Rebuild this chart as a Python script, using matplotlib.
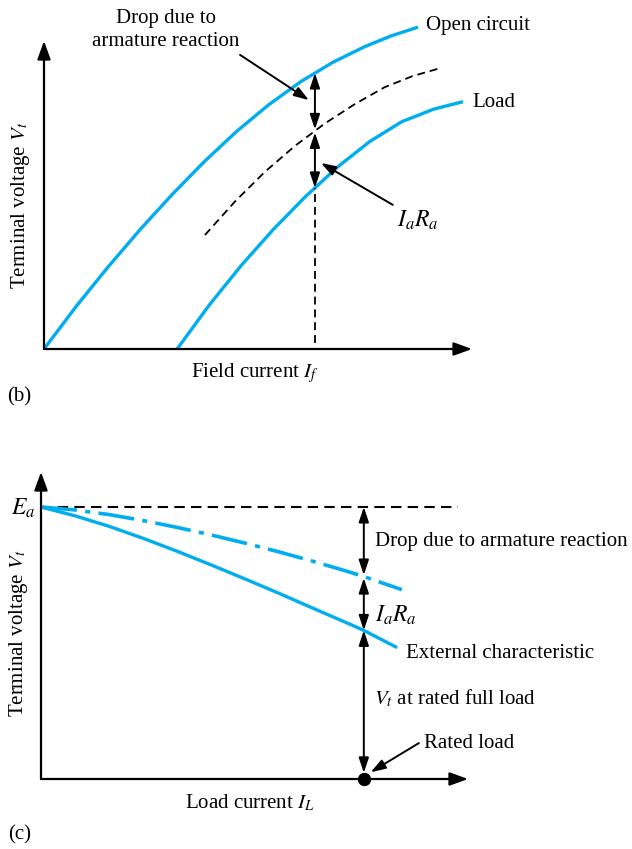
import matplotlib
matplotlib.use("Agg")
import matplotlib.pyplot as plt

plt.rcParams['font.family'] = ['Liberation Serif', 'DejaVu Serif']
plt.rcParams['mathtext.fontset'] = 'stix'
plt.rcParams['font.size'] = 15

BLUE = '#00aeef'

# --- (b) terminal voltage vs field current (arbitrary units) ---
oc_if = [0, 0.75, 1.5, 2.25, 3.0, 3.75, 4.5, 5.25, 6.0, 6.75, 7.5, 8.1, 8.74]
oc_vt = [0, 1.38, 2.67, 3.885, 5.025, 6.09, 7.065, 7.93, 8.68, 9.31, 9.82, 10.16, 10.45]
load_if = [3.11, 3.86, 4.61, 5.36, 6.11, 6.86, 7.61, 8.36, 9.11, 9.79]
load_vt = [0, 1.425, 2.715, 3.885, 4.95, 5.91, 6.735, 7.38, 7.79, 8.03]
ar_if = [3.76, 4.46, 5.16, 5.86, 6.56, 7.26, 7.96, 8.61, 9.21]
ar_vt = [3.70, 4.785, 5.75, 6.59, 7.32, 7.95, 8.50, 8.86, 9.10]
op_if = 6.33
op_open, op_ar, op_load = 8.96, 7.08, 5.23

# --- (c) terminal voltage vs load current (arbitrary units) ---
il = [0, 0.8, 1.6, 2.4, 3.2, 4.0, 4.8, 5.6, 6.4, 7.2, 7.56, 8.34]
ext_vt = [8.86, 8.572, 8.228, 7.836, 7.412, 6.964, 6.504, 6.032, 5.544, 5.064, 4.84, 4.28]
il_ar = [0, 0.8, 1.6, 2.4, 3.2, 4.0, 4.8, 5.6, 6.4, 7.2, 7.56, 8.45]
ar_only_vt = [8.86, 8.764, 8.612, 8.416, 8.192, 7.944, 7.676, 7.388, 7.08, 6.752, 6.594, 6.167]
ea = 8.86
rated_il = 7.56
rated_ar, rated_vt = 6.594, 4.84


def arrow(ax, p0, p1, style, lw=1.4, ms=20):
    ax.annotate('', xy=p1, xytext=p0, annotation_clip=False,
                arrowprops=dict(arrowstyle=style, lw=lw, color='k',
                                shrinkA=0, shrinkB=0, mutation_scale=ms))


AXIS_HEAD = '-|>,head_length=0.55,head_width=0.2'
DBL = '<|-|>,head_length=0.45,head_width=0.15'
ONE = '-|>,head_length=0.45,head_width=0.15'

fig = plt.figure(figsize=(6.32, 8.49), dpi=100)

# panel (b)
ax1 = fig.add_axes([44 / 632, 1 - 349 / 849, 428 / 632, 308 / 849])
ax1.set_xlim(0, 10)
ax1.set_ylim(0, 10)
ax1.axis('off')

arrow(ax1, (0, 0), (10, 0), AXIS_HEAD, lw=1.6)
arrow(ax1, (0, 0), (0, 10), AXIS_HEAD, lw=1.6)

ax1.plot(oc_if, oc_vt, color=BLUE, lw=2.4, solid_capstyle='butt',
         solid_joinstyle='round', clip_on=False)
ax1.plot(load_if, load_vt, color=BLUE, lw=2.4, solid_capstyle='butt',
         solid_joinstyle='round', clip_on=False)
ax1.plot(ar_if, ar_vt, color='k', lw=1.3, ls=(0, (4.4, 2.7)), clip_on=False)
ax1.plot([op_if, op_if], [0.19, op_load], color='k', lw=1.3, ls=(0, (4.4, 2.7)))

arrow(ax1, (op_if, op_ar + 0.05), (op_if, op_open), DBL)
arrow(ax1, (op_if, op_load), (op_if, op_ar - 0.05), DBL)
arrow(ax1, (4.58, 9.55), (6.19, 8.08), ONE)
arrow(ax1, (8.15, 4.68), (6.47, 6.04), ONE)

ax1.text(2.85, 10.36, 'Drop due to\narmature reaction', ha='center', va='center',
         linespacing=1.3)
ax1.text(8.92, 10.49, 'Open circuit', ha='left', va='center')
ax1.text(10.0, 7.99, 'Load', ha='left', va='center')
ax1.text(8.25, 4.19, '$I_aR_a$', ha='left', va='center', fontsize=17)
ax1.text(-0.55, 4.68, 'Terminal voltage $V_t$', rotation=90, ha='center', va='center')
ax1.text(4.93, -0.78, 'Field current $I_f$', ha='center', va='center')
ax1.text(-0.86, -1.56, '(b)', ha='left', va='center')

# panel (c)
ax2 = fig.add_axes([41 / 632, 1 - 779 / 849, 427 / 632, 307 / 849])
ax2.set_xlim(0, 10)
ax2.set_ylim(0, 10)
ax2.axis('off')

arrow(ax2, (0, 0), (10, 0), AXIS_HEAD, lw=1.6)
arrow(ax2, (0, 0), (0, 10), AXIS_HEAD, lw=1.6)

ax2.plot([0, 9.77], [ea, ea], color='k', lw=1.5, ls=(0, (5, 3)))
ax2.plot(il_ar, ar_only_vt, color=BLUE, lw=2.6, ls=(0, (10, 2.3, 1.4, 2.3)),
         clip_on=False)
ax2.plot(il, ext_vt, color=BLUE, lw=2.4, solid_capstyle='butt',
         solid_joinstyle='round', clip_on=False)

arrow(ax2, (rated_il, rated_ar + 0.05), (rated_il, ea), DBL)
arrow(ax2, (rated_il, rated_vt), (rated_il, rated_ar - 0.05), DBL)
arrow(ax2, (rated_il, 0.2), (rated_il, rated_vt), DBL)
ax2.plot(rated_il, 0, 'o', ms=8.6, color='k', clip_on=False, zorder=5)
arrow(ax2, (8.85, 1.17), (7.72, 0.22), ONE)

ax2.text(-0.14, 8.80, '$E_a$', ha='right', va='center', fontsize=17)
ax2.text(7.82, 7.72, 'Drop due to armature reaction', ha='left', va='center')
ax2.text(7.82, 5.34, '$I_aR_a$', ha='left', va='center', fontsize=17)
ax2.text(8.55, 4.10, 'External characteristic', ha='left', va='center')
ax2.text(7.80, 2.64, '$V_t$ at rated full load', ha='left', va='center')
ax2.text(8.97, 1.17, 'Rated load', ha='left', va='center')
ax2.text(4.89, -0.78, 'Load current $I_L$', ha='center', va='center')
ax2.text(-0.52, 4.76, 'Terminal voltage $V_t$', rotation=90, ha='center', va='center')
ax2.text(-0.77, -1.82, '(c)', ha='left', va='center')

fig.savefig('out.png', dpi=100)
